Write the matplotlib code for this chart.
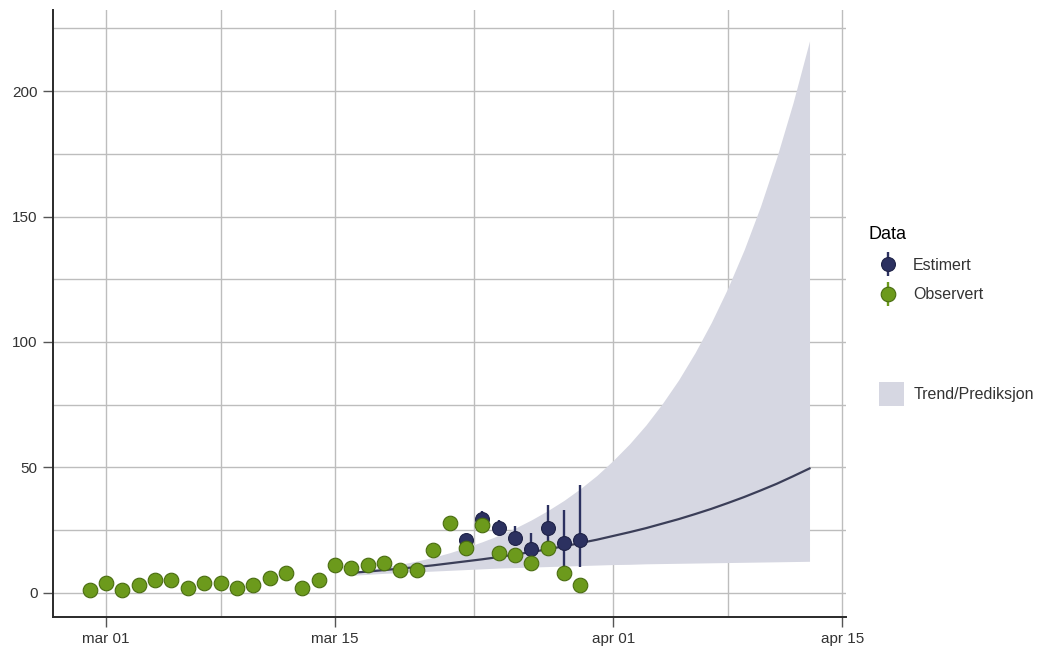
import matplotlib
matplotlib.use("agg")
import numpy as np
import pandas as pd
import matplotlib.pyplot as plt
from matplotlib.patches import Patch
from matplotlib.legend_handler import HandlerErrorbar

plt.rcParams['font.family'] = ['Liberation Sans', 'DejaVu Sans']

# daily observed counts, starting 29 Feb
obs_start = '2020-02-29'
observed = [1, 4, 1, 3, 5, 5, 2, 4, 4, 2, 3, 6, 8, 2, 5, 11, 10, 11, 12, 9, 9,
            17, 28, 18, 27, 16, 15, 12, 18, 8, 3]

# estimated counts with intervals, starting 23 Mar
est_start = '2020-03-23'
estimated = [21, 29.5, 26, 22, 17.5, 26, 20, 21]
est_low = [19.5, 27, 24, 20, 14.5, 17, 10.5, 10.5]
est_high = [23, 32.5, 29, 26.5, 24, 35, 33, 43]

# trend / prediction band, 16 Mar - 13 Apr
trend_start = '2020-03-16'
trend = [8.0, 8.5, 9.1, 9.7, 10.3, 11.0, 11.8, 12.6, 13.4, 14.3, 15.3, 16.3,
         17.4, 18.6, 19.9, 21.2, 22.7, 24.2, 25.8, 27.6, 29.4, 31.4, 33.5,
         35.8, 38.2, 40.8, 43.5, 46.5, 49.6]
trend_low = [7.0, 7.4, 7.8, 8.1, 8.4, 8.7, 9.0, 9.3, 9.6, 9.9, 10.1, 10.3,
             10.5, 10.7, 10.9, 11.1, 11.3, 11.4, 11.6, 11.7, 11.8, 11.9, 12.0,
             12.1, 12.2, 12.3, 12.4, 12.5, 12.6]
trend_high = [8.6, 9.4, 10.3, 11.4, 12.7, 14.2, 16.0, 18.1, 20.4, 22.9, 25.8,
              29.1, 32.8, 36.9, 41.6, 46.8, 52.8, 59.4, 66.9, 75.4, 84.9, 95.7,
              107.8, 121.4, 136.7, 154.0, 173.6, 195.5, 220.0]

x_ticks = ['2020-03-01', '2020-03-15', '2020-04-01', '2020-04-15']
x_labels = ['mar 01', 'mar 15', 'apr 01', 'apr 15']
x_minor = ['2020-03-08 00:00', '2020-03-23 12:00', '2020-04-08 00:00']
y_ticks = [0, 50, 100, 150, 200]
y_minor = [25, 75, 125, 175, 225]

navy = '#2c3160'
navy_edge = '#1f2348'
green = '#6c9a1c'
green_edge = '#496c10'
band = '#d6d7e2'
line_c = '#3b3e58'
grid_c = '#bdbdbd'
text_c = '#333333'

obs_dates = pd.date_range(obs_start, periods=len(observed))
est_dates = pd.date_range(est_start, periods=len(estimated))
trend_dates = pd.date_range(trend_start, periods=len(trend))
est = np.array(estimated)

fig = plt.figure(figsize=(10.38, 6.51), dpi=100)
ax = fig.add_axes([53/1038, 34/651, (846-53)/1038, (617-10)/651])

ax.fill_between(trend_dates, trend_low, trend_high, color=band, lw=0, zorder=2)
ax.plot(trend_dates, trend, color=line_c, lw=1.6, zorder=2.5)

est_c = ax.errorbar(est_dates, est, yerr=[est - np.array(est_low), np.array(est_high) - est],
                    fmt='o', color=navy, ms=10, mec=navy_edge, mew=0.8,
                    elinewidth=1.7, capsize=0, zorder=3)
obs_c = ax.errorbar(obs_dates, observed, yerr=np.zeros(len(observed)),
                    fmt='o', color=green, ms=10.5, mec=green_edge, mew=0.8,
                    elinewidth=1.7, capsize=0, zorder=4)

t0 = pd.Timestamp('2020-03-01')
ax.set_xlim(t0 - pd.Timedelta(days=3.24), t0 + pd.Timedelta(days=45.23))
ax.set_ylim(-9.6, 232.3)

ax.set_xticks(pd.to_datetime(x_ticks))
ax.set_xticklabels(x_labels)
ax.set_xticks(pd.to_datetime(x_minor), minor=True)
ax.set_yticks(y_ticks)
ax.set_yticks(y_minor, minor=True)

ax.grid(True, which='both', color=grid_c, lw=1.0, zorder=0)
ax.set_axisbelow(True)
for s in ['top', 'right']:
    ax.spines[s].set_visible(False)
for s in ['left', 'bottom']:
    ax.spines[s].set_color('#2a2a2a')
    ax.spines[s].set_linewidth(1.4)
ax.tick_params(which='major', direction='out', length=7, width=1.0, color='#555555',
               labelsize=11, labelcolor=text_c, pad=4)
ax.tick_params(which='minor', length=0)

leg1 = ax.legend(handles=[est_c, obs_c], labels=['Estimert', 'Observert'], title='Data',
                 loc='upper left', bbox_to_anchor=(854/1038, 1 - 212/651),
                 bbox_transform=fig.transFigure, frameon=False, fontsize=11.5,
                 title_fontsize=13, handlelength=2.5, handletextpad=0.3,
                 labelspacing=0.9, alignment='left',
                 handler_map={type(est_c): HandlerErrorbar(yerr_size=0.75)})
for t in leg1.get_texts():
    t.set_color(text_c)
ax.add_artist(leg1)

leg2 = ax.legend(handles=[Patch(facecolor=band, edgecolor='none')], labels=['Trend/Prediksjon'],
                 loc='upper left', bbox_to_anchor=(865/1038, 1 - 368/651),
                 bbox_transform=fig.transFigure, frameon=False, fontsize=11.5,
                 handlelength=1.56, handleheight=1.9, handletextpad=0.6)
for t in leg2.get_texts():
    t.set_color(text_c)

fig.savefig('out.png', dpi=100)
